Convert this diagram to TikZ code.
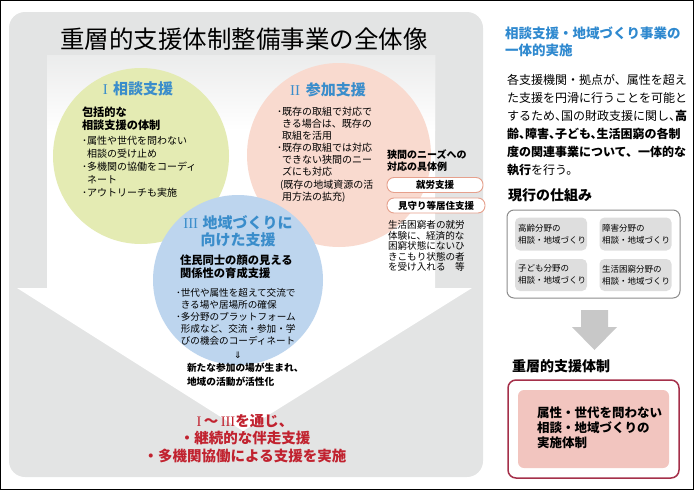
\documentclass[tikz,border=0pt]{standalone}
\usepackage{fontspec}
\setmainfont{Noto Sans CJK JP}
\newfontfamily\dejavu{DejaVu Sans}
\newfontfamily\romnum{Liberation Serif}
\definecolor{panelgrey}{HTML}{E3E4E4}
\definecolor{headblue}{HTML}{3A8DCB}
\definecolor{titleblue}{HTML}{2F89CF}
\definecolor{redtxt}{HTML}{C1222F}
\definecolor{cgreen}{HTML}{E4EBB3}
\definecolor{cpink}{HTML}{F9DACF}
\definecolor{cblue}{HTML}{BDD5EE}
\definecolor{salmon}{HTML}{E6A08C}
\definecolor{boxgrey}{HTML}{DEDEDE}
\definecolor{arrowgrey}{HTML}{C8C8C8}
\definecolor{darkred}{HTML}{A5304A}
\definecolor{pinkfill}{HTML}{F2C5BF}
\newcommand{\fsz}[2]{\fontsize{#1}{#2}\selectfont}
\newcommand{\rn}[1]{{\romnum\mdseries #1}}
\newcommand{\cm}{、\hspace{-0.5em}}
\begin{document}
\begin{tikzpicture}[x=1pt,y=-1pt,
  every node/.style={inner sep=0pt,outer sep=0pt},
  txt/.style={anchor=north west,align=left},
  circhead/.style={font=\bfseries\fsz{15}{17},text=headblue,align=center},
  pill/.style={draw=salmon,line width=0.9pt,fill=white,rounded corners=7pt,minimum width=96pt,minimum height=15pt,font=\bfseries\fsz{9.5}{11}},
  smallbox/.style={fill=boxgrey,rounded corners=5pt,minimum width=72pt,minimum height=33pt},
  smalltxt/.style={txt,font=\fsz{8.5}{12}}
]
\useasboundingbox (0,0) rectangle (694,490);
% left panel
\fill[panelgrey,rounded corners=16pt] (9,12) rectangle (483,477);
\fill[white] (47,55) -- (435,55) -- (435,288) -- (472,288) -- (243,431) -- (17,288) -- (47,288) -- cycle;
\shade[top color=panelgrey!70,bottom color=white] (47,55) rectangle (435,130);
\node (title) at (244,39) {\fsz{24.5}{28}重層的支援体制整備事業の全体像};
% circles
\fill[cgreen] (141,156) circle (88);
\fill[cpink] (339,155) circle (92);
\fill[cblue] (238,280) circle (85);
% circle I
\node[circhead] (h1) at (138,89) {\rn{I}\hspace{0.35em}相談支援};
\node[txt,font=\bfseries\fsz{11.2}{13.5}] (s1) at (82,106.6) {包括的な\\相談支援の体制};
\node[txt,font=\fsz{10}{13}] (b1) at (82,136) {･属性や世代を問わない\\\hspace{0.5em}相談の受け止め\\･多機関の協働をコーディ\\\hspace{0.5em}ネート\\･アウトリーチも実施};
% circle II
\node[circhead] (h2) at (328,90) {\rn{II}\hspace{0.4em}参加支援};
\node[txt,font=\fsz{10}{12.1}] (b2) at (277,107) {･既存の取組で対応で\\\hspace{0.5em}きる場合は、既存の\\\hspace{0.5em}取組を活用\\･既存の取組では対応\\\hspace{0.5em}できない狭間のニー\\\hspace{0.5em}ズにも対応\\\hspace{0.3em}(既存の地域資源の活\\\hspace{0.5em}用方法の拡充)};
\node[txt,font=\bfseries\fsz{10}{12}] (kyoma) at (387,150) {狭間のニーズへの\\対応の具体例};
\node[pill] (p1) at (435,185) {就労支援};
\node[pill,minimum width=98pt] (p2) at (436,205.5) {見守り等居住支援};
\node[txt,font=\fsz{9.6}{10.6}] (ex) at (388,220.4) {生活困窮者の就労\\体験に、経済的な\\困窮状態にないひ\\きこもり状態の者\\を受け入れる　等};
% circle III
\node[circhead,anchor=north] (h3) at (238,215.8) {\rn{III}\hspace{0.3em}地域づくりに\\向けた支援};
\node[txt,font=\bfseries\fsz{11.3}{13}] (s3) at (180,254.6) {住民同士の顔の見える\\関係性の育成支援};
\node[txt,font=\fsz{9.6}{12}] (b3) at (176,288.4) {･世代や属性を超えて交流で\\\hspace{0.5em}きる場や居場所の確保\\･多分野のプラットフォーム\\\hspace{0.5em}形成など、交流・参加・学\\\hspace{0.5em}びの機会のコーディネート};
\node (dar) at (238,355) {\dejavu\fsz{9}{10}⇓};
\node[txt,font=\bfseries\fsz{9.7}{14}] (res) at (187,363.3) {新たな参加の場が生まれ、\\地域の活動が活性化};
\node[anchor=north,align=center,font=\bfseries\fsz{14.5}{17.5},text=redtxt] (red) at (245,414) {\rn{I}\,〜\,\rn{III}を通じ、\\・継続的な伴走支援\\・多機関協働による支援を実施};
% right panel
\node[txt,font=\bfseries\fsz{13.5}{17},text=titleblue] (rt) at (505,26.5) {相談支援・地域づくり事業の\\一体的実施};
\node[txt,font=\fsz{12}{18}] (body) at (507,74) {各支援機関・拠点が、属性を超え\\た支援を円滑に行うことを可能と\\するため\cm 国の財政支援に関し\cm{\bfseries 高}\\{\bfseries 齢\cm 障害\cm 子ども\cm 生活困窮の各制}\\{\bfseries 度の関連事業について、一体的な}\\{\bfseries 執行}を行う。};
\node[anchor=west,font=\bfseries\fsz{14}{16}] (cur) at (508,195) {現行の仕組み};
\draw[draw=black!45,line width=1pt,rounded corners=7pt] (507,210) rectangle (680,298);
\node[smallbox] (k1) at (551,234) {};
\node[smallbox] (k2) at (635.5,234) {};
\node[smallbox,minimum height=32pt] (k3) at (551,275) {};
\node[smallbox,minimum height=32pt] (k4) at (635.5,275) {};
\node[smalltxt] (t1) at (518,224) {高齢分野の\\相談・地域づくり};
\node[smalltxt] (t2) at (602,224) {障害分野の\\相談・地域づくり};
\node[smalltxt] (t3) at (518,265) {子ども分野の\\相談・地域づくり};
\node[smalltxt] (t4) at (602,265) {生活困窮分野の\\相談・地域づくり};
\fill[arrowgrey] (581,310) -- (608,310) -- (608,327) -- (617,327) -- (594.5,350) -- (572,327) -- (581,327) -- cycle;
\node[anchor=west,font=\bfseries\fsz{14}{16}] (jyu) at (512,366) {重層的支援体制};
\draw[draw=darkred,line width=1.5pt,rounded corners=8pt] (508,380) rectangle (679,478);
\fill[pinkfill,rounded corners=6pt] (518,390) rectangle (669,468);
\node[txt,font=\bfseries\fsz{12.5}{15}] (pt) at (537,407) {属性・世代を問わない\\相談・地域づくりの\\実施体制};
% outer frame
\draw[black,line width=1.3pt] (0.65,0.65) rectangle (693.35,489.35);
\end{tikzpicture}
\end{document}
